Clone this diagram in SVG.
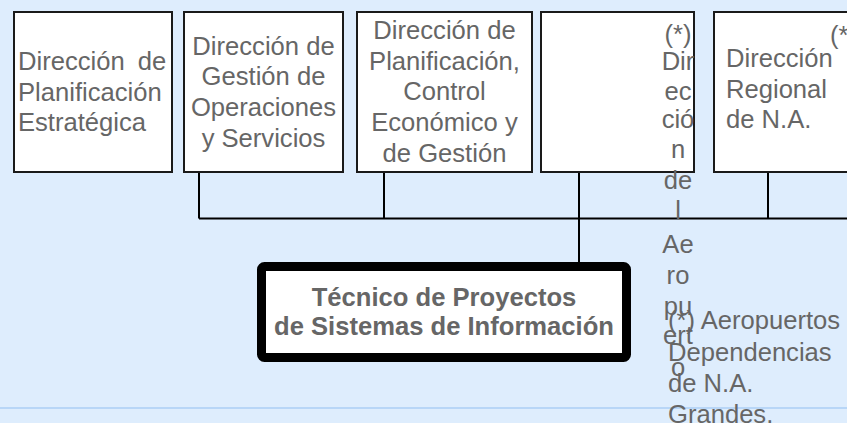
<svg xmlns="http://www.w3.org/2000/svg" width="847" height="423" viewBox="0 0 847 423">
<style>
.bg{fill:#deedfd}
.box{fill:#ffffff;stroke:#1a1a1a;stroke-width:2}
.main{fill:#ffffff;stroke:#000000;stroke-width:9}
.t{font-family:"Liberation Sans",Arial,sans-serif;font-size:25.6px;fill:#666666}
.c{text-anchor:middle}
.b{font-weight:bold}
.conn{stroke:#000000;stroke-width:2;fill:none}
</style>
<rect class="bg" x="0" y="0" width="847" height="423"/>
<line x1="0" y1="408" x2="847" y2="408" stroke="#b8d6f7" stroke-width="2"/>
<g id="connectors">
<path class="conn" d="M199 172V218.5M384 172V218.5M579 172V262M768 172V218.5M199 218.5H847"/>
</g>
<g id="node1">
<rect class="box" x="14" y="12" width="158" height="160"/>
<text class="t" x="18" y="70" word-spacing="6">Dirección de</text>
<text class="t" x="18" y="100.5">Planificación</text>
<text class="t" x="18" y="131">Estratégica</text>
</g>
<g id="node2">
<rect class="box" x="184" y="12" width="159" height="160"/>
<text class="t c" x="263.5" y="54.5">Dirección de</text>
<text class="t c" x="263.5" y="85.2">Gestión de</text>
<text class="t c" x="263.5" y="115.9">Operaciones</text>
<text class="t c" x="263.5" y="146.6">y Servicios</text>
</g>
<g id="node3">
<rect class="box" x="357" y="12" width="175" height="160"/>
<text class="t c" x="444.5" y="39">Dirección de</text>
<text class="t c" x="444.5" y="69.7">Planificación,</text>
<text class="t c" x="444.5" y="100.4">Control</text>
<text class="t c" x="444.5" y="131.1">Económico y</text>
<text class="t c" x="444.5" y="161.8">de Gestión</text>
</g>
<g id="node4">
<rect class="box" x="541" y="12" width="153" height="160"/>
<text class="t c" x="678" y="43">(*)</text>
<text class="t c" x="678" y="70">Dir</text>
<text class="t c" x="678" y="100">ec</text>
<text class="t c" x="678" y="128">ció</text>
<text class="t c" x="678" y="158">n</text>
<text class="t c" x="678" y="189">de</text>
<text class="t c" x="678" y="219">l</text>
<text class="t c" x="678" y="253">Ae</text>
<text class="t c" x="678" y="284">ro</text>
<text class="t c" x="678" y="314.5">pu</text>
<text class="t c" x="678" y="344">ert</text>
<text class="t c" x="678" y="376">o</text>
</g>
<g id="node5">
<rect class="box" x="714" y="12" width="140" height="160"/>
<text class="t" x="830" y="44">(*)</text>
<text class="t" x="726" y="67">Dirección</text>
<text class="t" x="726" y="97.7">Regional</text>
<text class="t" x="726" y="128.4">de N.A.</text>
</g>
<g id="main">
<rect class="main" x="261.5" y="266.5" width="365" height="91" rx="3"/>
<text class="t c b" x="444" y="306">Técnico de Proyectos</text>
<text class="t c b" x="444" y="335">de Sistemas de Información</text>
</g>
<g id="note">
<text class="t" x="668" y="329">(*) Aeropuertos</text>
<text class="t" x="668" y="361">Dependencias</text>
<text class="t" x="668" y="392">de N.A.</text>
<text class="t" x="668" y="423">Grandes.</text>
</g>
</svg>
